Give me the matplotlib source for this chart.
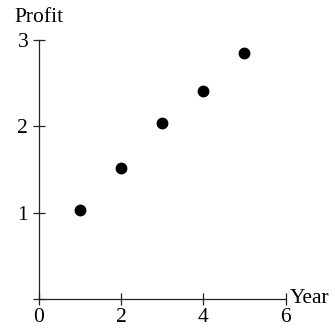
import matplotlib
matplotlib.use("Agg")
import matplotlib.pyplot as plt

year = [1, 2, 3, 4, 5]
profit = [1.03, 1.52, 2.03, 2.41, 2.84]
x_ticks = [0, 2, 4, 6]
y_ticks = [0, 1, 2, 3]
y_tick_labels = ["", "1", "2", "3"]

plt.rcParams['font.family'] = ['Liberation Serif', 'DejaVu Serif']
plt.rcParams['font.size'] = 15.5

fig = plt.figure(figsize=(3.34, 3.26), dpi=100)
ax = fig.add_axes([0.1168, 0.0828, 0.855 - 0.1168, 0.8788 - 0.0828])

ax.plot(year, profit, 'o', color='black', markersize=7.5)

ax.set_xlim(0, 6)
ax.set_ylim(0, 3)
ax.set_xticks(x_ticks)
ax.set_yticks(y_ticks)
ax.set_yticklabels(y_tick_labels)

for s in ['top', 'right']:
    ax.spines[s].set_visible(False)
for s in ['left', 'bottom']:
    ax.spines[s].set_linewidth(0.9)
    ax.spines[s].set_color('#222222')

ax.tick_params(direction='inout', length=8.5, width=0.9, color='#222222')
ax.tick_params(axis='x', pad=2.5)
ax.tick_params(axis='y', pad=3.5)

ax.text(6.1, 0.01, 'Year', ha='left', va='center', clip_on=False)
fig.text(14 / 334, 1 - 18 / 326, 'Profit', ha='left', va='center')

fig.savefig('out.png', dpi=100)
